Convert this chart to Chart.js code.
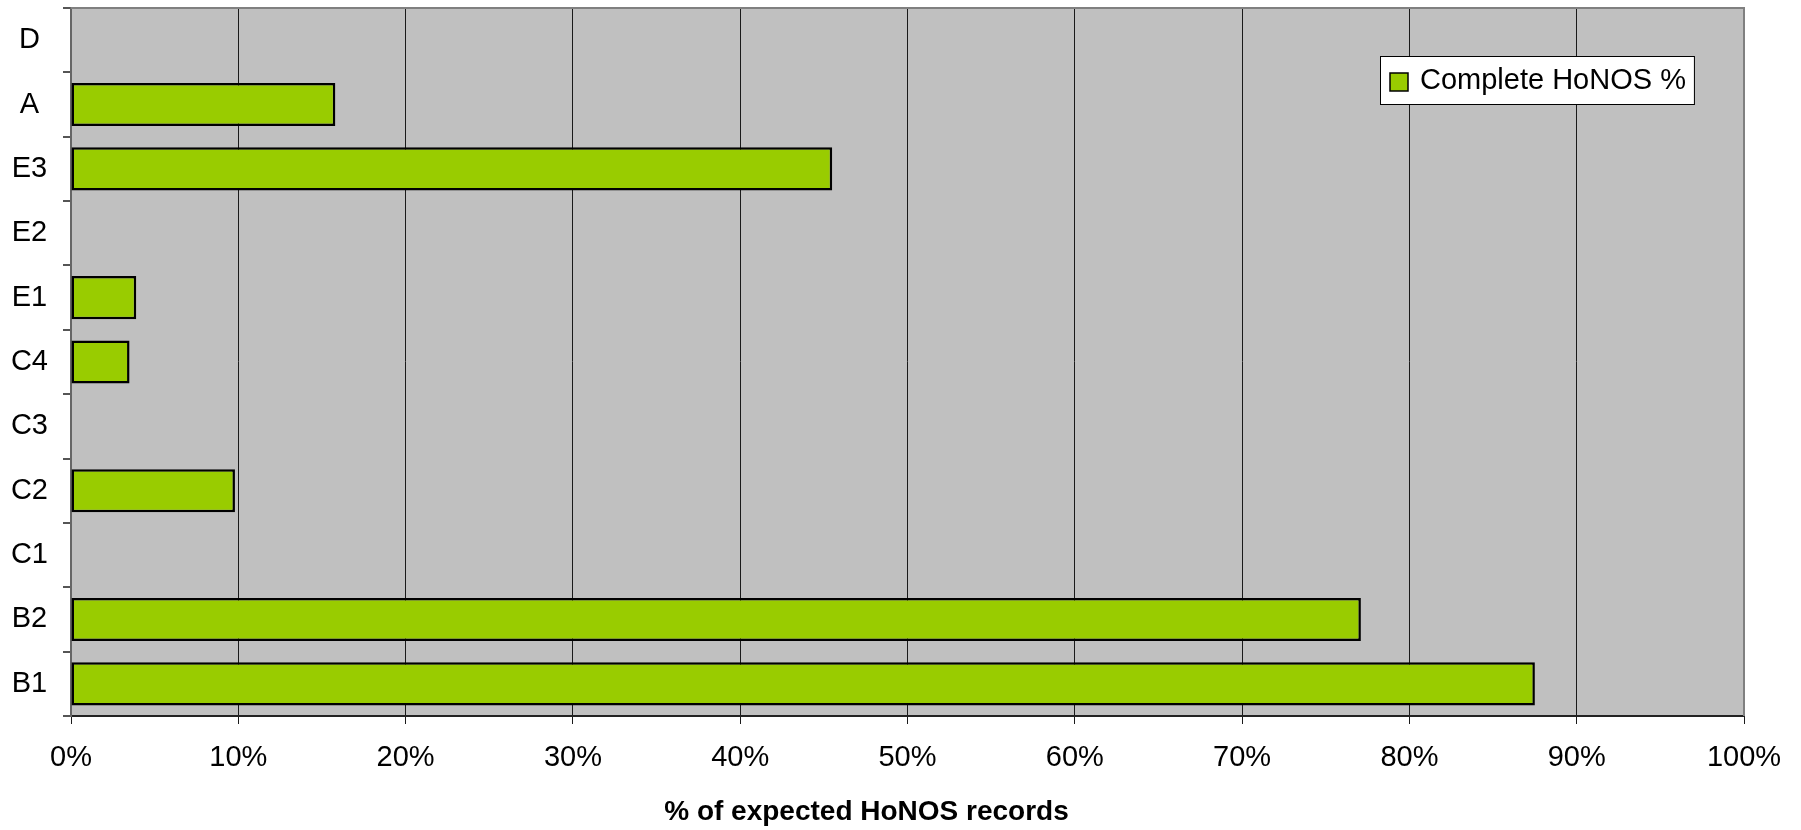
<!DOCTYPE html>
<html>
<head>
<meta charset="utf-8">
<title>Complete HoNOS %</title>
<script src="https://cdn.jsdelivr.net/npm/chart.js@4/dist/chart.umd.min.js"></script>
<style>
  html, body { margin: 0; padding: 0; background: #fff; }
  #wrap { width: 1801px; height: 830px; position: relative; }
</style>
</head>
<body>
<div id="wrap"><canvas id="honosChart"></canvas></div>
<script>
// data
const categories = ['D', 'A', 'E3', 'E2', 'E1', 'C4', 'C3', 'C2', 'C1', 'B2', 'B1'];
const completePct = [0, 15.8, 45.5, 0, 3.9, 3.5, 0, 9.8, 0, 77.1, 87.5];
const seriesLabel = 'Complete HoNOS %';
const axisTitle = '% of expected HoNOS records';
const xMin = 0, xMax = 100, xStep = 10;

const FONT = '"Liberation Sans", Arial, sans-serif';

// grey plot area plus top/right frame
const plotFrame = {
  id: 'plotFrame',
  beforeDraw(chart) {
    const { ctx, chartArea: a } = chart;
    ctx.save();
    ctx.fillStyle = '#c0c0c0';
    ctx.fillRect(a.left, a.top, a.right - a.left, a.bottom - a.top);
    ctx.restore();
  },
  afterDatasetsDraw(chart) {
    const { ctx, chartArea: a } = chart;
    ctx.save();
    ctx.strokeStyle = '#808080';
    ctx.lineWidth = 2;
    ctx.beginPath();
    ctx.moveTo(a.left, a.top);
    ctx.lineTo(a.right, a.top);
    ctx.lineTo(a.right, a.bottom);
    ctx.stroke();
    ctx.restore();
  }
};

// axis title sits a bit left of the plot centre in the original
const xTitle = {
  id: 'xTitle',
  afterDraw(chart) {
    const { ctx, chartArea: a } = chart;
    ctx.save();
    ctx.font = 'bold 28px ' + FONT;
    ctx.fillStyle = '#000';
    ctx.textAlign = 'center';
    ctx.textBaseline = 'middle';
    ctx.fillText(axisTitle, (a.left + a.right) / 2 - 41, 812);
    ctx.restore();
  }
};

// legend in a white box inside the plot, like the original
const boxLegend = {
  id: 'boxLegend',
  afterDraw(chart) {
    const { ctx, chartArea: a } = chart;
    const ds = chart.data.datasets[0];
    ctx.save();
    ctx.font = '29px ' + FONT;
    const tw = ctx.measureText(ds.label).width;
    const w = tw + 48, h = 48;
    const x = Math.round(a.right - 50 - w), y = Math.round(a.top + 48);
    ctx.fillStyle = '#fff';
    ctx.fillRect(x, y, w, h);
    ctx.strokeStyle = '#000';
    ctx.lineWidth = 1;
    ctx.strokeRect(x + 0.5, y + 0.5, w, h);
    ctx.fillStyle = ds.backgroundColor;
    ctx.fillRect(x + 10, y + 17, 18, 18);
    ctx.lineWidth = 1.5;
    ctx.strokeRect(x + 10, y + 17, 18, 18);
    ctx.fillStyle = '#000';
    ctx.textBaseline = 'middle';
    ctx.fillText(ds.label, x + 40, y + h / 2 + 1);
    ctx.restore();
  }
};

const ctx = document.getElementById('honosChart').getContext('2d');
const honosChart = new Chart(ctx, {
  type: 'bar',
  data: {
    labels: categories,
    datasets: [{
      label: seriesLabel,
      data: completePct,
      backgroundColor: '#99cc00',
      borderColor: '#000',
      borderWidth: 2.5,
      borderSkipped: false,
      barPercentage: 0.67,
      categoryPercentage: 1
    }]
  },
  options: {
    indexAxis: 'y',
    responsive: true,
    maintainAspectRatio: false,
    animation: false,
    layout: { padding: { top: 8, right: 57, bottom: 0, left: 0 } },
    plugins: {
      legend: { display: false },
      tooltip: { enabled: false }
    },
    scales: {
      x: {
        min: xMin,
        max: xMax,
        ticks: {
          stepSize: xStep,
          padding: 17,
          color: '#000',
          font: { family: FONT, size: 29 },
          callback: v => v + '%'
        },
        grid: {
          color: '#1a1a1a',
          lineWidth: 1,
          tickLength: 8,
          drawOnChartArea: true
        },
        border: { color: '#222', width: 2 },
        afterFit: s => { s.height = 114; }
      },
      y: {
        ticks: {
          crossAlign: 'center',
          padding: 15,
          color: '#000',
          font: { family: FONT, size: 29 }
        },
        grid: {
          drawOnChartArea: false,
          drawTicks: true,
          tickLength: 8,
          color: '#555',
          lineWidth: 2
        },
        border: { color: '#666', width: 2 },
        afterFit: s => {
          s.width = 71;
          s.paddingTop = 0;
          s.paddingBottom = 0;
        }
      }
    }
  },
  plugins: [plotFrame, xTitle, boxLegend]
});
</script>
</body>
</html>
